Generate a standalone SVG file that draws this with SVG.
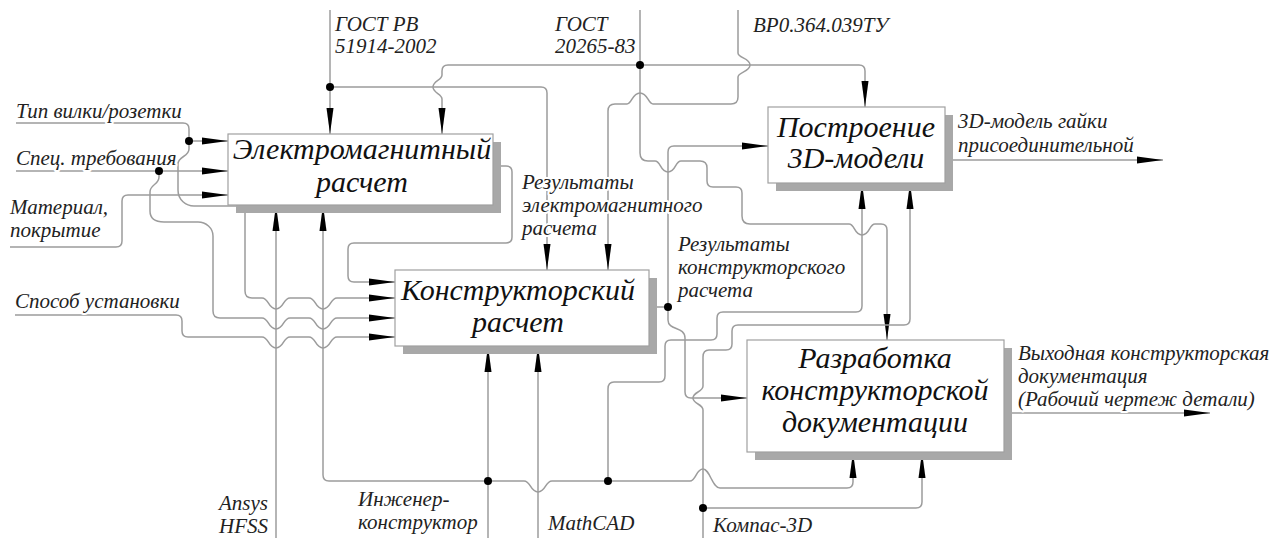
<svg xmlns="http://www.w3.org/2000/svg" width="1277" height="538" viewBox="0 0 1277 538">
<defs>
<marker id="ah" markerWidth="26" markerHeight="8" refX="26" refY="4" orient="auto" markerUnits="userSpaceOnUse"><path d="M0,0.5 L26,4 L0,7.5 z" fill="#000"/></marker>
<style>
.c{fill:none;stroke:#9c9c9c;stroke-width:1.5}
.a{marker-end:url(#ah)}
.dot{fill:#000}
.box{fill:#fff;stroke:#a0a0a0;stroke-width:1.2}
.sh{fill:#a8a8a8}
.t{font-style:italic;font-size:30px;fill:#111;text-anchor:middle}
.l{font-style:italic;font-size:21px;fill:#222;stroke:#fff;stroke-width:4;paint-order:stroke;stroke-linejoin:round}
</style>
</defs>
<rect width="1277" height="538" fill="#fff"/>
<g id="connectors">
<path class="c a" d="M330,10 V134"/>
<path class="c a" d="M330,87 H541 Q547,87 547,93 V270"/>
<path class="c a" d="M640,10 V153 Q640,161 648,161 H655 C661,161 660,172 668,172 C676,172 675,161 681,161 H700 Q707,161 707,168 V181 Q707,187 713,187 H736 Q742,187 742,193 V216 Q742,224 750,224 H849 C855,224 854,235 862,235 C870,235 869,224 875,224 H881 Q887,224 887,230 V340"/>
<path class="c a" d="M640,65 H448 Q442,65 442,71 V75 C442,80 433,81 433,87 C433,93 442,94 442,99 V134"/>
<path class="c a" d="M640,65 H859 Q865,65 865,71 V107"/>
<path class="c a" d="M738,10 V53 C738,58 750,58 750,65 C750,72 738,72 738,77 V97 Q738,104 731,104 H653 C648,104 648,93 640,93 C632,93 632,104 627,104 H615 Q608,104 608,111 V270"/>
<path class="c a" d="M493,166 H506 Q512,166 512,172 V237 Q512,243 506,243 H354 Q348,243 348,249 V276 Q348,282 354,282 H395"/>
<path class="c a" d="M16,123 H183 Q189,123 189,129 V141 H228"/>
<path class="c a" d="M189,141 V149 C189,157 178,156 178,164 V190 C178,200 186,206 194,206 H238 Q245,206 245,213 V291 Q245,298 252,298 H262 C269,298 268,309 276,309 C284,309 283,298 290,298 H309 C316,298 315,309 323,309 C331,309 330,298 337,298 H395"/>
<path class="c a" d="M16,171 H228"/>
<path class="c a" d="M159,171 V177 C159,185 150,184 150,192 V211 C150,219 156,222 164,222 H198 C206,222 213,228 213,236 V311 Q213,318 220,318 H262 C269,318 268,329 276,329 C284,329 283,318 290,318 H309 C316,318 315,329 323,329 C331,329 330,318 337,318 H395"/>
<path class="c a" d="M10,247 H116 Q122,247 122,241 V201 Q122,195 128,195 H228"/>
<path class="c a" d="M15,315 H176 Q182,315 182,321 V331 Q182,337 188,337 H262 C269,337 268,348 276,348 C284,348 283,337 290,337 H309 C316,337 315,348 323,348 C331,348 330,337 337,337 H395"/>
<path class="c a" d="M276,538 V205"/>
<path class="c a" d="M488,538 V346"/>
<path class="c a" d="M488,481 H329 Q323,481 323,475 V205"/>
<path class="c a" d="M488,481 H524 C531,481 530,492 538,492 C546,492 545,481 552,481 H690 C696,481 696,469 703,469 C710,469 712,488 720,488 H847 Q853,488 853,482 V452"/>
<path class="c a" d="M608,481 V389 Q608,382 614,382 H659 Q665,382 665,376 V346 Q665,340 671,340 H711 Q717,340 717,334 V318 Q717,312 723,312 H856 Q862,312 862,306 V183"/>
<path class="c a" d="M538,538 V346"/>
<path class="c" d="M649,307 H668"/>
<path class="c a" d="M668,307 V152 Q668,146 674,146 H768"/>
<path class="c a" d="M668,307 V320 C668,331 685,326 685,338 V392 Q685,398 691,398 H747"/>
<path class="c a" d="M703,538 V410 C703,404 693,404 693,398 C693,392 703,392 703,386 V357 Q703,350 709,350 H726 Q732,350 732,344 V331 Q732,325 738,325 H904 Q910,325 910,319 V183"/>
<path class="c a" d="M703,508 H916 Q922,508 922,502 V452"/>
<path class="c a" d="M945,160 H1163"/>
<path class="c a" d="M1004,413 H1210"/>
<circle class="dot" cx="330" cy="87" r="4"/>
<circle class="dot" cx="640" cy="65" r="4"/>
<circle class="dot" cx="189" cy="141" r="4"/>
<circle class="dot" cx="159" cy="171" r="4"/>
<circle class="dot" cx="668" cy="307" r="4"/>
<circle class="dot" cx="488" cy="481" r="4"/>
<circle class="dot" cx="608" cy="481" r="4"/>
<circle class="dot" cx="703" cy="508" r="4"/>
</g>
<g id="labels" font-family="'Liberation Serif', 'Times New Roman', serif">
<text class="l" x="335" y="31">ГОСТ РВ</text>
<text class="l" x="335" y="53">51914-2002</text>
<text class="l" x="555" y="31">ГОСТ</text>
<text class="l" x="555" y="53">20265-83</text>
<text class="l" x="753" y="32">ВР0.364.039ТУ</text>
<text class="l" x="16" y="118">Тип вилки/розетки</text>
<text class="l" x="16" y="165">Спец. требования</text>
<text class="l" x="10" y="214">Материал,</text>
<text class="l" x="10" y="237">покрытие</text>
<text class="l" x="15" y="308">Способ установки</text>
<text class="l" x="522" y="189">Результаты</text>
<text class="l" x="522" y="212">электромагнитного</text>
<text class="l" x="522" y="235">расчета</text>
<text class="l" x="678" y="251">Результаты</text>
<text class="l" x="678" y="274">конструкторского</text>
<text class="l" x="678" y="297">расчета</text>
<text class="l" x="958" y="128">3D-модель гайки</text>
<text class="l" x="958" y="152">присоединительной</text>
<text class="l" x="1018" y="360">Выходная конструкторская</text>
<text class="l" x="1018" y="383">документация</text>
<text class="l" x="1018" y="406">(Рабочий чертеж детали)</text>
<text class="l" x="268" y="510" text-anchor="end">Ansys</text>
<text class="l" x="268" y="533" text-anchor="end">HFSS</text>
<text class="l" x="358" y="506">Инженер-</text>
<text class="l" x="358" y="529">конструктор</text>
<text class="l" x="548" y="530">MathCAD</text>
<text class="l" x="713" y="532">Компас-3D</text>
</g>
<g id="node-em" font-family="'Liberation Serif', 'Times New Roman', serif">
<rect class="sh" x="236" y="142" width="265" height="71"/>
<rect class="box" x="228" y="134" width="265" height="71"/>
<text class="t" x="362" y="159">Электромагнитный</text>
<text class="t" x="362" y="192">расчет</text>
</g>
<g id="node-kr" font-family="'Liberation Serif', 'Times New Roman', serif">
<rect class="sh" x="403" y="278" width="254" height="76"/>
<rect class="box" x="395" y="270" width="254" height="76"/>
<text class="t" x="518" y="300">Конструкторский</text>
<text class="t" x="518" y="332">расчет</text>
</g>
<g id="node-3d" font-family="'Liberation Serif', 'Times New Roman', serif">
<rect class="sh" x="776" y="115" width="177" height="76"/>
<rect class="box" x="768" y="107" width="177" height="76"/>
<text class="t" x="856" y="137">Построение</text>
<text class="t" x="856" y="168">3D-модели</text>
</g>
<g id="node-doc" font-family="'Liberation Serif', 'Times New Roman', serif">
<rect class="sh" x="755" y="348" width="257" height="112"/>
<rect class="box" x="747" y="340" width="257" height="112"/>
<text class="t" x="875" y="368">Разработка</text>
<text class="t" x="875" y="400">конструкторской</text>
<text class="t" x="875" y="432">документации</text>
</g>
</svg>
